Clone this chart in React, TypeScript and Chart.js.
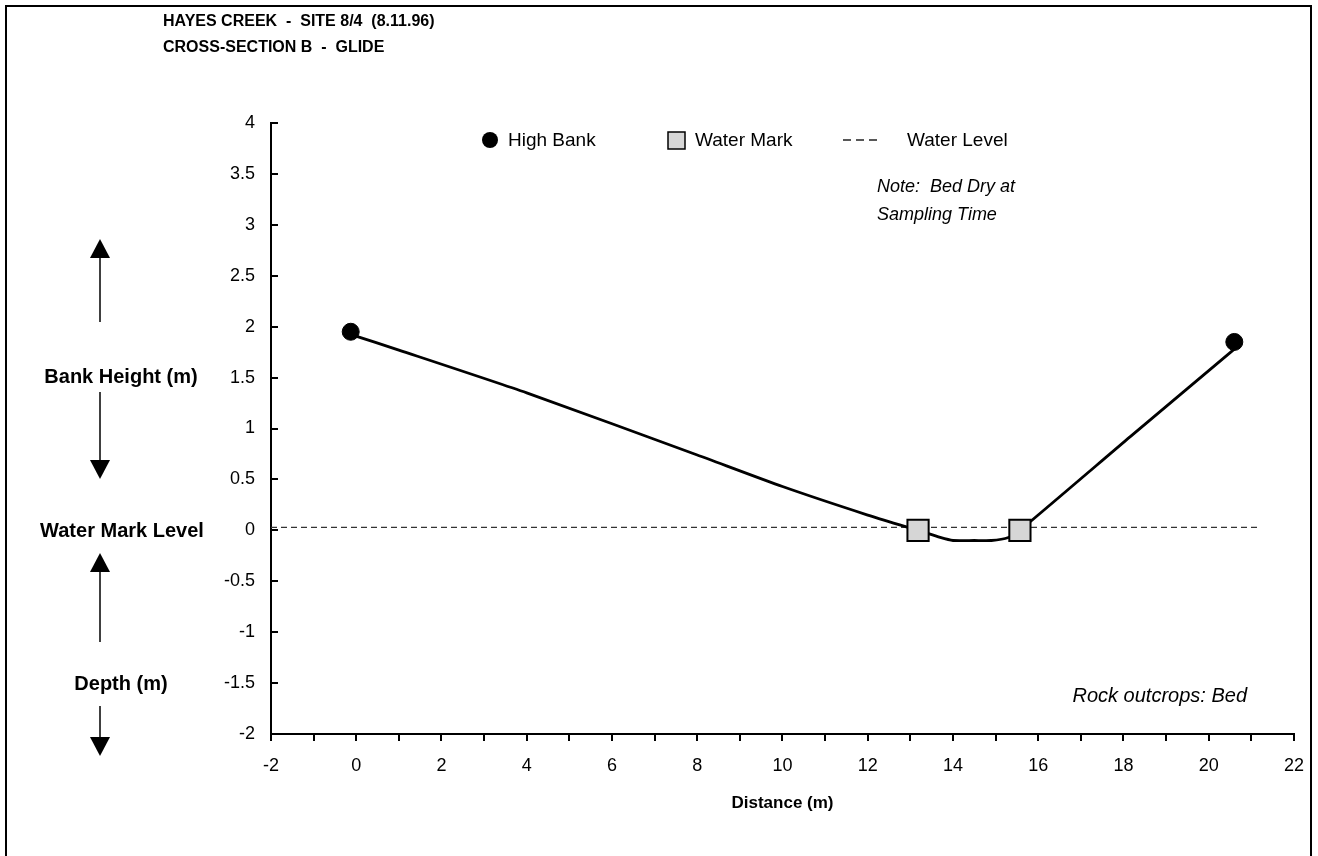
import React, { useEffect, useRef } from "react";
import { Chart, registerables } from "chart.js";

Chart.register(...registerables);

// ---- data ----
const profileX = [-0.1, 1, 4, 8, 10, 12, 13.18, 13.7, 14.0, 14.5, 14.9, 15.3, 15.57, 18.16, 20.6];
const profileY = [1.92, 1.77, 1.35, 0.74, 0.43, 0.15, 0.0, -0.07, -0.1, -0.1, -0.1, -0.07, 0.0, 0.92, 1.78];
const bankX = [-0.13, 20.6];
const bankY = [1.95, 1.85];
const markX = [13.18, 15.57];
const markY = [0, 0];
const levelX = [-2, 21.2];
const levelY = [0.03, 0.03];

const titleLines = ["HAYES CREEK  -  SITE 8/4  (8.11.96)", "CROSS-SECTION B  -  GLIDE"];
const legendLabels = ["High Bank", "Water Mark", "Water Level"];
const noteLines = ["Note:  Bed Dry at", "Sampling Time"];
const rockNote = "Rock outcrops: Bed";
const sideLabels = ["Bank Height (m)", "Water Mark Level", "Depth (m)"];
const xTitle = "Distance (m)";

const xMin = -2, xMax = 22, xStep = 1;
const yMin = -2, yMax = 4, yStep = 0.5;

const FONT = "'Liberation Sans', Arial, sans-serif";

function toPts(xs: number[], ys: number[]) {
  return xs.map((x, i) => ({ x, y: ys[i] }));
}

function arrowHead(ctx: CanvasRenderingContext2D, x: number, tipY: number, dir: number) {
  ctx.beginPath();
  ctx.moveTo(x, tipY);
  ctx.lineTo(x - 10, tipY - dir * 19);
  ctx.lineTo(x + 10, tipY - dir * 19);
  ctx.closePath();
  ctx.fill();
}

const overlay = {
  id: "overlay",
  afterDraw(chart: any) {
    const ctx: CanvasRenderingContext2D = chart.ctx;
    const ys = chart.scales.y;
    const area = chart.chartArea;
    ctx.save();
    // inward y ticks
    ctx.strokeStyle = "#000";
    ctx.lineWidth = 2;
    ys.ticks.forEach((t: any) => {
      const py = Math.round(ys.getPixelForValue(t.value));
      ctx.beginPath();
      ctx.moveTo(area.left, py);
      ctx.lineTo(area.left + 7, py);
      ctx.stroke();
    });

    ctx.fillStyle = "#000";
    ctx.textBaseline = "middle";
    ctx.textAlign = "left";
    // title
    ctx.font = `bold 16px ${FONT}`;
    ctx.fillText(titleLines[0], 163, 22);
    ctx.fillText(titleLines[1], 163, 48);

    // legend
    ctx.font = `19px ${FONT}`;
    ctx.beginPath();
    ctx.arc(490, 140, 8, 0, Math.PI * 2);
    ctx.fill();
    ctx.fillText(legendLabels[0], 508, 141);
    ctx.fillStyle = "#d6d6d6";
    ctx.fillRect(668, 132, 17, 17);
    ctx.strokeStyle = "#000";
    ctx.lineWidth = 1.5;
    ctx.strokeRect(668, 132, 17, 17);
    ctx.fillStyle = "#000";
    ctx.fillText(legendLabels[1], 695, 141);
    ctx.save();
    ctx.setLineDash([8, 5]);
    ctx.lineWidth = 1.5;
    ctx.strokeStyle = "#222";
    ctx.beginPath();
    ctx.moveTo(843, 140);
    ctx.lineTo(877, 140);
    ctx.stroke();
    ctx.restore();
    ctx.fillText(legendLabels[2], 907, 141);

    // notes
    ctx.font = `italic 18px ${FONT}`;
    ctx.fillText(noteLines[0], 877, 187);
    ctx.fillText(noteLines[1], 877, 215);
    ctx.font = `italic 20px ${FONT}`;
    ctx.textAlign = "right";
    ctx.fillText(rockNote, 1247, 696);

    // side labels
    ctx.textAlign = "center";
    ctx.font = `bold 20px ${FONT}`;
    ctx.fillText(sideLabels[0], 121, 377);
    ctx.fillText(sideLabels[1], 122, 531);
    ctx.fillText(sideLabels[2], 121, 684);

    // x title
    ctx.font = `bold 17px ${FONT}`;
    ctx.fillText(xTitle, (area.left + area.right) / 2, 803);

    // arrows
    ctx.strokeStyle = "#000";
    ctx.lineWidth = 1.5;
    const ax = 100;
    const segs = [
      [256, 322],
      [392, 462],
      [570, 642],
      [706, 738],
    ];
    segs.forEach(([a, b]) => {
      ctx.beginPath();
      ctx.moveTo(ax, a);
      ctx.lineTo(ax, b);
      ctx.stroke();
    });
    arrowHead(ctx, ax, 239, -1);
    arrowHead(ctx, ax, 479, 1);
    arrowHead(ctx, ax, 553, -1);
    arrowHead(ctx, ax, 756, 1);
    ctx.restore();
  },
};

export default function App() {
  const ref = useRef<HTMLCanvasElement | null>(null);
  useEffect(() => {
    if (!ref.current) return;
    const chart = new Chart(ref.current, {
      type: "scatter",
      data: {
        datasets: [
          {
            label: "Water Level",
            data: toPts(levelX, levelY),
            showLine: true,
            borderColor: "#333",
            borderWidth: 1.3,
            borderDash: [6, 4],
            pointRadius: 0,
            order: 3,
          },
          {
            label: "Profile",
            data: toPts(profileX, profileY),
            showLine: true,
            borderColor: "#000",
            borderWidth: 2.8,
            pointRadius: 0,
            tension: 0.2,
            order: 2,
          },
          {
            label: legendLabels[0],
            data: toPts(bankX, bankY),
            pointStyle: "circle",
            pointRadius: 8.5,
            backgroundColor: "#000",
            borderColor: "#000",
            borderWidth: 1,
            order: 1,
          },
          {
            label: legendLabels[1],
            data: toPts(markX, markY),
            pointStyle: "rect",
            pointRadius: 15,
            backgroundColor: "#d6d6d6",
            borderColor: "#000",
            borderWidth: 2,
            order: 0,
          },
        ],
      },
      options: {
        animation: false,
        responsive: false,
        layout: { padding: { left: 211, right: 21, top: 123, bottom: 42 } },
        plugins: { legend: { display: false }, tooltip: { enabled: false }, title: { display: false } },
        scales: {
          x: {
            type: "linear",
            min: xMin,
            max: xMax,
            afterFit: (s: any) => {
              s.height = 80;
            },
            ticks: {
              stepSize: xStep,
              autoSkip: false,
              maxRotation: 0,
              padding: 14,
              color: "#000",
              font: { family: FONT, size: 18 },
              callback: (v: any) => (Number(v) % 2 === 0 ? String(v) : ""),
            },
            grid: {
              display: true,
              drawOnChartArea: false,
              drawTicks: true,
              tickLength: 7,
              color: "#000",
              lineWidth: 2,
            },
            border: { display: true, color: "#000", width: 2 },
          },
          y: {
            type: "linear",
            min: yMin,
            max: yMax,
            afterFit: (s: any) => {
              s.width = 60;
            },
            ticks: {
              stepSize: yStep,
              autoSkip: false,
              padding: 16,
              color: "#000",
              font: { family: FONT, size: 18 },
              callback: (v: any) => String(Math.round(Number(v) * 10) / 10),
            },
            grid: { display: true, drawOnChartArea: false, drawTicks: false },
            border: { display: true, color: "#000", width: 2 },
          },
        },
      },
      plugins: [overlay],
    } as any);
    return () => chart.destroy();
  }, []);

  return (
    <div
      style={{
        position: "fixed",
        left: 0,
        top: 0,
        width: 1318,
        height: 856,
        overflow: "hidden",
        background: "#fff",
      }}
    >
      <div
        style={{
          position: "absolute",
          left: 5,
          top: 5,
          width: 1307,
          height: 870,
          border: "2px solid #000",
          boxSizing: "border-box",
        }}
      />
      <canvas ref={ref} width={1318} height={856} style={{ position: "absolute", left: 0, top: 0 }} />
    </div>
  );
}
